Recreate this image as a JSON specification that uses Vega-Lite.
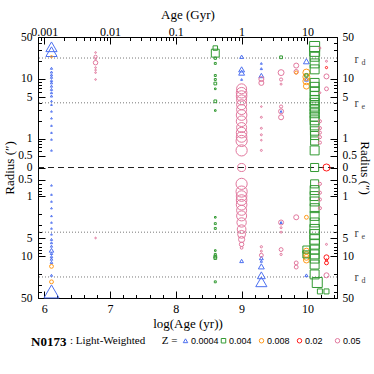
{
"$schema":"https://vega.github.io/schema/vega-lite/v6.json",
"width":299,"height":261,
"autosize":{"type":"none"},
"padding":{"left":38,"top":37,"right":37,"bottom":76},
"background":"white",
"config":{"view":{"stroke":"black","strokeWidth":1},
 "axis":{"labelFont":"Liberation Serif","titleFont":"Liberation Serif","labelColor":"black","titleColor":"black","domainColor":"black","tickColor":"black","grid":false,"labelFontSize":12,"titleFontSize":13,"titleFontWeight":"normal","labelOverlap":false,"labelFlush":false,"labelBound":false}},
"title":{"text":"N0173","orient":"bottom","anchor":"start","frame":"group","dx":-7,"offset":-10,"font":"Liberation Serif","fontSize":13,"fontWeight":"bold","color":"black"},
"datasets":{
"pts":[
{"a":6.11,"r":34.7,"Z":"0.0004","w":50},{"a":6.11,"r":28.7,"Z":"0.0004","w":50},
{"a":6.11,"r":15.9,"Z":"0.0004","w":2},{"a":6.11,"r":13.8,"Z":"0.0004","w":2},{"a":6.11,"r":12.2,"Z":"0.0004","w":2},{"a":6.11,"r":10.9,"Z":"0.0004","w":2},{"a":6.11,"r":9.4,"Z":"0.0004","w":2},{"a":6.11,"r":8.6,"Z":"0.0004","w":2},{"a":6.11,"r":7.6,"Z":"0.0004","w":2},{"a":6.11,"r":6.7,"Z":"0.0004","w":2},{"a":6.11,"r":5.9,"Z":"0.0004","w":2},{"a":6.11,"r":5.2,"Z":"0.0004","w":2},{"a":6.11,"r":4.3,"Z":"0.0004","w":1.2},{"a":6.11,"r":3.75,"Z":"0.0004","w":1.2},{"a":6.11,"r":2.9,"Z":"0.0004","w":1.2},{"a":6.11,"r":2.25,"Z":"0.0004","w":1.2},{"a":6.11,"r":1.74,"Z":"0.0004","w":1.2},{"a":6.11,"r":1.35,"Z":"0.0004","w":1.2},{"a":6.11,"r":0.98,"Z":"0.0004","w":1.2},{"a":6.11,"r":0.62,"Z":"0.0004","w":1.2},
{"a":6.11,"r":-0.64,"Z":"0.0004","w":1.2},{"a":6.11,"r":-0.94,"Z":"0.0004","w":1.2},{"a":6.11,"r":-1.3,"Z":"0.0004","w":1.2},{"a":6.11,"r":-1.67,"Z":"0.0004","w":1.2},{"a":6.11,"r":-2.17,"Z":"0.0004","w":1.2},{"a":6.11,"r":-2.79,"Z":"0.0004","w":1.2},{"a":6.11,"r":-3.5,"Z":"0.0004","w":1.2},{"a":6.11,"r":-4.37,"Z":"0.0004","w":1.2},{"a":6.11,"r":-5.3,"Z":"0.0004","w":2},{"a":6.11,"r":-6.0,"Z":"0.0004","w":2},{"a":6.11,"r":-6.85,"Z":"0.0004","w":2},{"a":6.11,"r":-8.0,"Z":"0.0004","w":8},{"a":6.11,"r":-9.06,"Z":"0.0004","w":2.5},{"a":6.11,"r":-10.3,"Z":"0.0004","w":2.5},{"a":6.11,"r":-11.7,"Z":"0.0004","w":2.5},{"a":6.11,"r":-13.5,"Z":"0.0004","w":2.5},{"a":6.11,"r":-21.1,"Z":"0.0004","w":2},{"a":6.11,"r":-39,"Z":"0.0004","w":90},
{"a":6.11,"r":24,"Z":"0.008","w":2},{"a":6.11,"r":-15.7,"Z":"0.008","w":6},{"a":6.11,"r":-27.3,"Z":"0.008","w":6},
{"a":6.78,"r":27.9,"Z":"0.05","w":1},{"a":6.78,"r":23.9,"Z":"0.05","w":4},{"a":6.78,"r":21.7,"Z":"0.05","w":1},{"a":6.78,"r":19,"Z":"0.05","w":8},{"a":6.78,"r":16.3,"Z":"0.05","w":1},{"a":6.78,"r":14.9,"Z":"0.05","w":1},{"a":6.78,"r":13.5,"Z":"0.05","w":1},{"a":6.78,"r":9.8,"Z":"0.05","w":1},{"a":6.78,"r":-5.0,"Z":"0.05","w":1},
{"a":8.6,"r":33,"Z":"0.004","w":8},{"a":8.6,"r":27.3,"Z":"0.004","w":25},{"a":8.6,"r":22.5,"Z":"0.004","w":2},{"a":8.6,"r":18.6,"Z":"0.004","w":1.5},{"a":8.6,"r":11.9,"Z":"0.004","w":1.5},{"a":8.6,"r":9.8,"Z":"0.004","w":1.5},{"a":8.6,"r":8.4,"Z":"0.004","w":3},{"a":8.6,"r":6.85,"Z":"0.004","w":1},{"a":8.6,"r":4.26,"Z":"0.004","w":3},{"a":8.6,"r":2.98,"Z":"0.004","w":1},{"a":8.6,"r":-2.3,"Z":"0.004","w":1},{"a":8.6,"r":-2.9,"Z":"0.004","w":1.5},{"a":8.6,"r":-3.5,"Z":"0.004","w":1.5},{"a":8.6,"r":-8.1,"Z":"0.004","w":1},{"a":8.6,"r":-9.4,"Z":"0.004","w":1.5},{"a":8.6,"r":-10.3,"Z":"0.004","w":3},{"a":8.6,"r":-11.1,"Z":"0.004","w":3},{"a":8.6,"r":-27.3,"Z":"0.004","w":1.5},
{"a":9.0,"r":23.9,"Z":"0.0004","w":6},{"a":9.0,"r":15.3,"Z":"0.0004","w":14},{"a":9.0,"r":13.5,"Z":"0.0004","w":14},{"a":9.0,"r":9.8,"Z":"0.0004","w":1.5},{"a":9.0,"r":-12.7,"Z":"0.0004","w":6},
{"a":9.0,"r":6.85,"Z":"0.05","w":40},{"a":9.0,"r":5.9,"Z":"0.05","w":45},{"a":9.0,"r":5.2,"Z":"0.05","w":45},{"a":9.0,"r":4.5,"Z":"0.05","w":40},{"a":9.0,"r":3.75,"Z":"0.05","w":40},{"a":9.0,"r":3.1,"Z":"0.05","w":40},{"a":9.0,"r":2.55,"Z":"0.05","w":45},{"a":9.0,"r":1.98,"Z":"0.05","w":45},{"a":9.0,"r":1.63,"Z":"0.05","w":40},{"a":9.0,"r":1.35,"Z":"0.05","w":45},{"a":9.0,"r":1.11,"Z":"0.05","w":45},{"a":9.0,"r":0.92,"Z":"0.05","w":50},{"a":9.0,"r":0.62,"Z":"0.05","w":50},{"a":9.0,"r":0,"Z":"0.05","w":26},
{"a":9.0,"r":-0.6,"Z":"0.05","w":50},{"a":9.0,"r":-0.83,"Z":"0.05","w":50},{"a":9.0,"r":-1.0,"Z":"0.05","w":45},{"a":9.0,"r":-1.22,"Z":"0.05","w":45},{"a":9.0,"r":-1.48,"Z":"0.05","w":45},{"a":9.0,"r":-1.79,"Z":"0.05","w":40},{"a":9.0,"r":-2.17,"Z":"0.05","w":40},{"a":9.0,"r":-2.79,"Z":"0.05","w":35},{"a":9.0,"r":-3.6,"Z":"0.05","w":30},{"a":9.0,"r":-4.37,"Z":"0.05","w":25},{"a":9.0,"r":-5.3,"Z":"0.05","w":15},{"a":9.0,"r":-6.4,"Z":"0.05","w":8},{"a":9.0,"r":-7.3,"Z":"0.05","w":3},
{"a":9.3,"r":18.6,"Z":"0.0004","w":1.5},{"a":9.3,"r":15.7,"Z":"0.0004","w":2},{"a":9.3,"r":11.9,"Z":"0.0004","w":10},{"a":9.3,"r":-11.1,"Z":"0.0004","w":6},{"a":9.3,"r":-12.9,"Z":"0.0004","w":2},{"a":9.3,"r":-15.7,"Z":"0.0004","w":14},{"a":9.3,"r":-21.1,"Z":"0.0004","w":25},{"a":9.3,"r":-27.3,"Z":"0.0004","w":50},
{"a":9.3,"r":9.96,"Z":"0.05","w":10},{"a":9.3,"r":8.6,"Z":"0.05","w":10},{"a":9.3,"r":3.5,"Z":"0.05","w":1},{"a":9.3,"r":2.34,"Z":"0.05","w":1.5},{"a":9.3,"r":1.59,"Z":"0.05","w":1.5},{"a":9.3,"r":1.23,"Z":"0.05","w":1.5},{"a":9.3,"r":0.95,"Z":"0.05","w":1},{"a":9.3,"r":0.62,"Z":"0.05","w":1.5},{"a":9.3,"r":-7.0,"Z":"0.05","w":2},{"a":9.3,"r":-8.3,"Z":"0.05","w":1.5},{"a":9.3,"r":-9.7,"Z":"0.05","w":6},
{"a":9.6,"r":23.4,"Z":"0.004","w":3},
{"a":9.6,"r":13.5,"Z":"0.05","w":14},{"a":9.6,"r":9.8,"Z":"0.05","w":4},{"a":9.6,"r":8.2,"Z":"0.05","w":1.5},{"a":9.6,"r":3.5,"Z":"0.05","w":4},{"a":9.6,"r":2.9,"Z":"0.05","w":10},{"a":9.6,"r":2.34,"Z":"0.05","w":10},{"a":9.6,"r":-2.79,"Z":"0.05","w":10},{"a":9.6,"r":-3.4,"Z":"0.05","w":1.5},{"a":9.6,"r":-4.0,"Z":"0.05","w":1.5},{"a":9.6,"r":-7.8,"Z":"0.05","w":6},{"a":9.6,"r":-9.4,"Z":"0.05","w":2},
{"a":9.6,"r":2.9,"Z":"0.0004","w":1.5},{"a":9.6,"r":-2.79,"Z":"0.0004","w":2},
{"a":9.83,"r":17.4,"Z":"0.05","w":10},{"a":9.83,"r":14,"Z":"0.05","w":8},{"a":9.83,"r":-2.3,"Z":"0.05","w":10},{"a":9.83,"r":-13.8,"Z":"0.05","w":6},{"a":9.83,"r":-16.1,"Z":"0.05","w":6},
{"a":9.83,"r":13.5,"Z":"0.008","w":4},
{"a":9.985,"r":19.8,"Z":"0.0004","w":14},{"a":9.985,"r":9.8,"Z":"0.0004","w":6},{"a":9.985,"r":-21.1,"Z":"0.0004","w":4},
{"a":9.985,"r":13.5,"Z":"0.008","w":20},{"a":9.985,"r":11.1,"Z":"0.008","w":20},{"a":9.985,"r":9.2,"Z":"0.008","w":20},{"a":9.985,"r":7.6,"Z":"0.008","w":14},{"a":9.985,"r":-2.3,"Z":"0.008","w":6},{"a":9.985,"r":-8.3,"Z":"0.008","w":14},{"a":9.985,"r":-9.4,"Z":"0.008","w":14},{"a":9.985,"r":-10.7,"Z":"0.008","w":14},{"a":9.985,"r":-12.2,"Z":"0.008","w":14},
{"a":9.985,"r":11.9,"Z":"0.004","w":4},{"a":9.985,"r":-7.8,"Z":"0.004","w":20},{"a":9.985,"r":-9.4,"Z":"0.004","w":20},
{"a":10.11,"r":35.1,"Z":"0.004","w":40},{"a":10.11,"r":29,"Z":"0.004","w":40},{"a":10.11,"r":23.9,"Z":"0.004","w":32},{"a":10.11,"r":18.6,"Z":"0.004","w":32},{"a":10.11,"r":15.3,"Z":"0.004","w":32},{"a":10.11,"r":8.6,"Z":"0.004","w":32},{"a":10.11,"r":7.4,"Z":"0.004","w":32},{"a":10.11,"r":6.25,"Z":"0.004","w":32},{"a":10.11,"r":5.2,"Z":"0.004","w":32},{"a":10.11,"r":4.5,"Z":"0.004","w":32},{"a":10.11,"r":4.0,"Z":"0.004","w":32},{"a":10.11,"r":3.5,"Z":"0.004","w":32},{"a":10.11,"r":3.1,"Z":"0.004","w":32},{"a":10.11,"r":2.72,"Z":"0.004","w":32},{"a":10.11,"r":2.39,"Z":"0.004","w":32},{"a":10.11,"r":2.05,"Z":"0.004","w":32},{"a":10.11,"r":1.74,"Z":"0.004","w":30},{"a":10.11,"r":1.44,"Z":"0.004","w":28},{"a":10.11,"r":1.19,"Z":"0.004","w":26},{"a":10.11,"r":0.92,"Z":"0.004","w":26},{"a":10.11,"r":0.62,"Z":"0.004","w":32},{"a":10.11,"r":0,"Z":"0.004","w":26},
{"a":10.11,"r":-0.6,"Z":"0.004","w":26},{"a":10.11,"r":-0.78,"Z":"0.004","w":32},{"a":10.11,"r":-1.0,"Z":"0.004","w":32},{"a":10.11,"r":-1.3,"Z":"0.004","w":32},{"a":10.11,"r":-1.67,"Z":"0.004","w":32},{"a":10.11,"r":-2.17,"Z":"0.004","w":32},{"a":10.11,"r":-2.79,"Z":"0.004","w":32},{"a":10.11,"r":-3.6,"Z":"0.004","w":36},{"a":10.11,"r":-4.37,"Z":"0.004","w":36},{"a":10.11,"r":-5.3,"Z":"0.004","w":36},{"a":10.11,"r":-6.4,"Z":"0.004","w":36},{"a":10.11,"r":-7.8,"Z":"0.004","w":32},{"a":10.11,"r":-9.4,"Z":"0.004","w":32},{"a":10.11,"r":-11.4,"Z":"0.004","w":32},{"a":10.11,"r":-14.7,"Z":"0.004","w":32},{"a":10.11,"r":-20.3,"Z":"0.004","w":32},{"a":10.15,"r":-27.9,"Z":"0.004","w":40},
{"a":10.19,"r":-39,"Z":"0.004","w":10},{"a":10.29,"r":-39,"Z":"0.004","w":10},
{"a":10.19,"r":33,"Z":"0.05","w":1.5},{"a":10.19,"r":5.9,"Z":"0.05","w":1.5},{"a":10.19,"r":1.98,"Z":"0.05","w":4},{"a":10.19,"r":1.6,"Z":"0.05","w":4},{"a":10.19,"r":1.35,"Z":"0.05","w":4},{"a":10.19,"r":1.1,"Z":"0.05","w":4},{"a":10.19,"r":0.86,"Z":"0.05","w":4},{"a":10.19,"r":-0.6,"Z":"0.05","w":4},{"a":10.19,"r":-0.87,"Z":"0.05","w":4},{"a":10.19,"r":-1.19,"Z":"0.05","w":4},{"a":10.19,"r":-1.67,"Z":"0.05","w":4},
{"a":10.29,"r":16.3,"Z":"0.02","w":2},{"a":10.29,"r":0,"Z":"0.02","w":20},{"a":10.29,"r":-10.7,"Z":"0.02","w":10},{"a":10.29,"r":-12.2,"Z":"0.02","w":2},{"a":10.29,"r":-13.8,"Z":"0.02","w":6},
{"a":10.29,"r":19.8,"Z":"0.05","w":1.5},{"a":10.29,"r":11.4,"Z":"0.05","w":10},{"a":10.29,"r":6.85,"Z":"0.05","w":6},{"a":10.29,"r":-6.4,"Z":"0.05","w":1.5},{"a":10.29,"r":-21.1,"Z":"0.05","w":10}
]},
"layer":[
{"data":{"values":[{"r":22.7},{"r":4.0}]},
 "mark":{"type":"rule","strokeDash":[1,2],"color":"#777","strokeWidth":1},
 "encoding":{"y":{"field":"r","type":"quantitative",
  "scale":{"type":"linear","nice":false,"zero":false,"domain":[-50,-40,-30,-20,-10,-9,-8,-7,-6,-5,-4,-3,-2,-1,-0.9,-0.8,-0.7,-0.6,-0.5,0,0.5,0.6,0.7,0.8,0.9,1,2,3,4,5,6,7,8,9,10,20,30,40,50],
   "range":[261,255.18,247.69,237.12,219.06,216.31,213.25,209.77,205.75,201,195.18,187.69,177.12,159.06,156.54,153.73,150.54,146.86,142.5,130.5,118.5,114.14,110.46,107.27,104.46,101.94,83.88,73.31,65.82,60,55.25,51.23,47.75,44.69,41.94,23.88,13.31,5.82,0]},
  "axis":{"orient":"left","title":"Radius (\u2033)","titlePadding":1,"labelPadding":13,"labelFontSize":11.5,
   "values":[-50,-40,-30,-20,-10,-9,-8,-7,-6,-5,-4,-3,-2,-1,-0.9,-0.8,-0.7,-0.6,-0.5,0,0.5,0.6,0.7,0.8,0.9,1,2,3,4,5,6,7,8,9,10,20,30,40,50],
   "labelExpr":"indexof([0,0.5,1,5,10,50], abs(datum.value)) >= 0 ? '' + abs(datum.value) : ''",
   "tickSize":{"condition":{"test":"indexof([0,0.5,1,5,10,50], abs(datum.value)) >= 0","value":-7},"value":-3.5}}}}},
{"data":{"values":[{"r":-22.7},{"r":-4.0}]},
 "mark":{"type":"rule","strokeDash":[1,2],"color":"#777","strokeWidth":1},
 "encoding":{"y":{"field":"r","type":"quantitative",
  "axis":{"orient":"right","title":"Radius (\u2033)","titleAngle":90,"titlePadding":1,"labelPadding":12,"labelFontSize":11.5,
   "values":[-50,-40,-30,-20,-10,-9,-8,-7,-6,-5,-4,-3,-2,-1,-0.9,-0.8,-0.7,-0.6,-0.5,0,0.5,0.6,0.7,0.8,0.9,1,2,3,4,5,6,7,8,9,10,20,30,40,50],
   "labelExpr":"indexof([0,0.5,1,5,10,50], abs(datum.value)) >= 0 ? '' + abs(datum.value) : ''",
   "tickSize":{"condition":{"test":"indexof([0,0.5,1,5,10,50], abs(datum.value)) >= 0","value":-7},"value":-3.5}}}}},
{"data":{"values":[{"r":0}]},
 "mark":{"type":"rule","strokeDash":[6,4],"color":"#222","strokeWidth":1},
 "encoding":{
  "x":{"datum":5.905,"type":"quantitative","scale":{"domain":[5.905,10.45],"nice":false,"zero":false},
   "axis":{"orient":"top","title":"Age (Gyr)","titlePadding":0,"labelPadding":6,
    "values":[5.954,6,6.301,6.477,6.602,6.699,6.778,6.845,6.903,6.954,7,7.301,7.477,7.602,7.699,7.778,7.845,7.903,7.954,8,8.301,8.477,8.602,8.699,8.778,8.845,8.903,8.954,9,9.301,9.477,9.602,9.699,9.778,9.845,9.903,9.954,10,10.301],
    "labelExpr":"datum.value == 6 ? '0.001' : datum.value == 7 ? '0.01' : datum.value == 8 ? '0.1' : datum.value == 9 ? '1' : datum.value == 10 ? '10' : ''",
    "tickSize":{"condition":{"test":"datum.value % 1 == 0","value":-7},"value":-3.5}}},
  "x2":{"datum":10.45},
  "y":{"field":"r","type":"quantitative",
   "axis":{"orient":"right","title":null,"domain":false,"ticks":false,"values":[22.7,4,-4,-22.7],"labelExpr":"'r'","labelPadding":17,"labelColor":"#444","labelFontSize":12}}}},
{"data":{"name":"pts"},
 "mark":{"type":"point","filled":false,"strokeWidth":1,"opacity":1},
 "encoding":{
  "x":{"field":"a","type":"quantitative",
   "axis":{"orient":"bottom","title":"log(Age (yr))","titlePadding":0,"labelPadding":12,
    "values":[6,6.2,6.4,6.6,6.8,7,7.2,7.4,7.6,7.8,8,8.2,8.4,8.6,8.8,9,9.2,9.4,9.6,9.8,10,10.2,10.4],
    "labelExpr":"abs(datum.value - round(datum.value)) < 0.001 ? '' + round(datum.value) : ''",
    "tickSize":{"condition":{"test":"abs(datum.value - round(datum.value)) < 0.001","value":-7},"value":-3.5}}},
  "y":{"field":"r","type":"quantitative",
   "axis":{"orient":"right","title":null,"domain":false,"ticks":false,"values":[22.7,4,-4,-22.7],"labelExpr":"abs(datum.value) > 10 ? 'd' : 'e'","labelPadding":24,"labelOffset":4,"labelColor":"#444","labelFontSize":8}},
  "color":{"field":"Z","type":"nominal","scale":{"domain":["0.0004","0.004","0.008","0.02","0.05"],"range":["#4d70f0","#339a33","#ff9a1a","#ff1a1a","#e2789e"]},
   "legend":{"orient":"none","legendX":32,"legendY":299,"direction":"horizontal","gridAlign":"all","title":": Light-Weighted\u00a0\u00a0\u00a0\u00a0\u00a0\u00a0Z =","titleOrient":"left","titleFont":"Liberation Serif","titleFontStyle":"normal","titleFontWeight":"normal","titleFontSize":11,"titleColor":"black","titlePadding":3,"labelFont":"Liberation Sans","labelFontSize":9,"labelOffset":1,"columnPadding":0,"symbolSize":20,"symbolStrokeWidth":1,
    "encode":{"labels":{"update":{"fill":{"signal":"scale('color', datum.value)"}}}}}},
  "shape":{"field":"Z","type":"nominal","scale":{"domain":["0.0004","0.004","0.008","0.02","0.05"],"range":["triangle-up","square","circle","circle","circle"]}},
  "size":{"field":"w","type":"quantitative","scale":{"type":"linear","domain":[0,100],"range":[0,250],"zero":true},"legend":null}}}
],
"resolve":{"axis":{"x":"independent","y":"independent"}}
}
